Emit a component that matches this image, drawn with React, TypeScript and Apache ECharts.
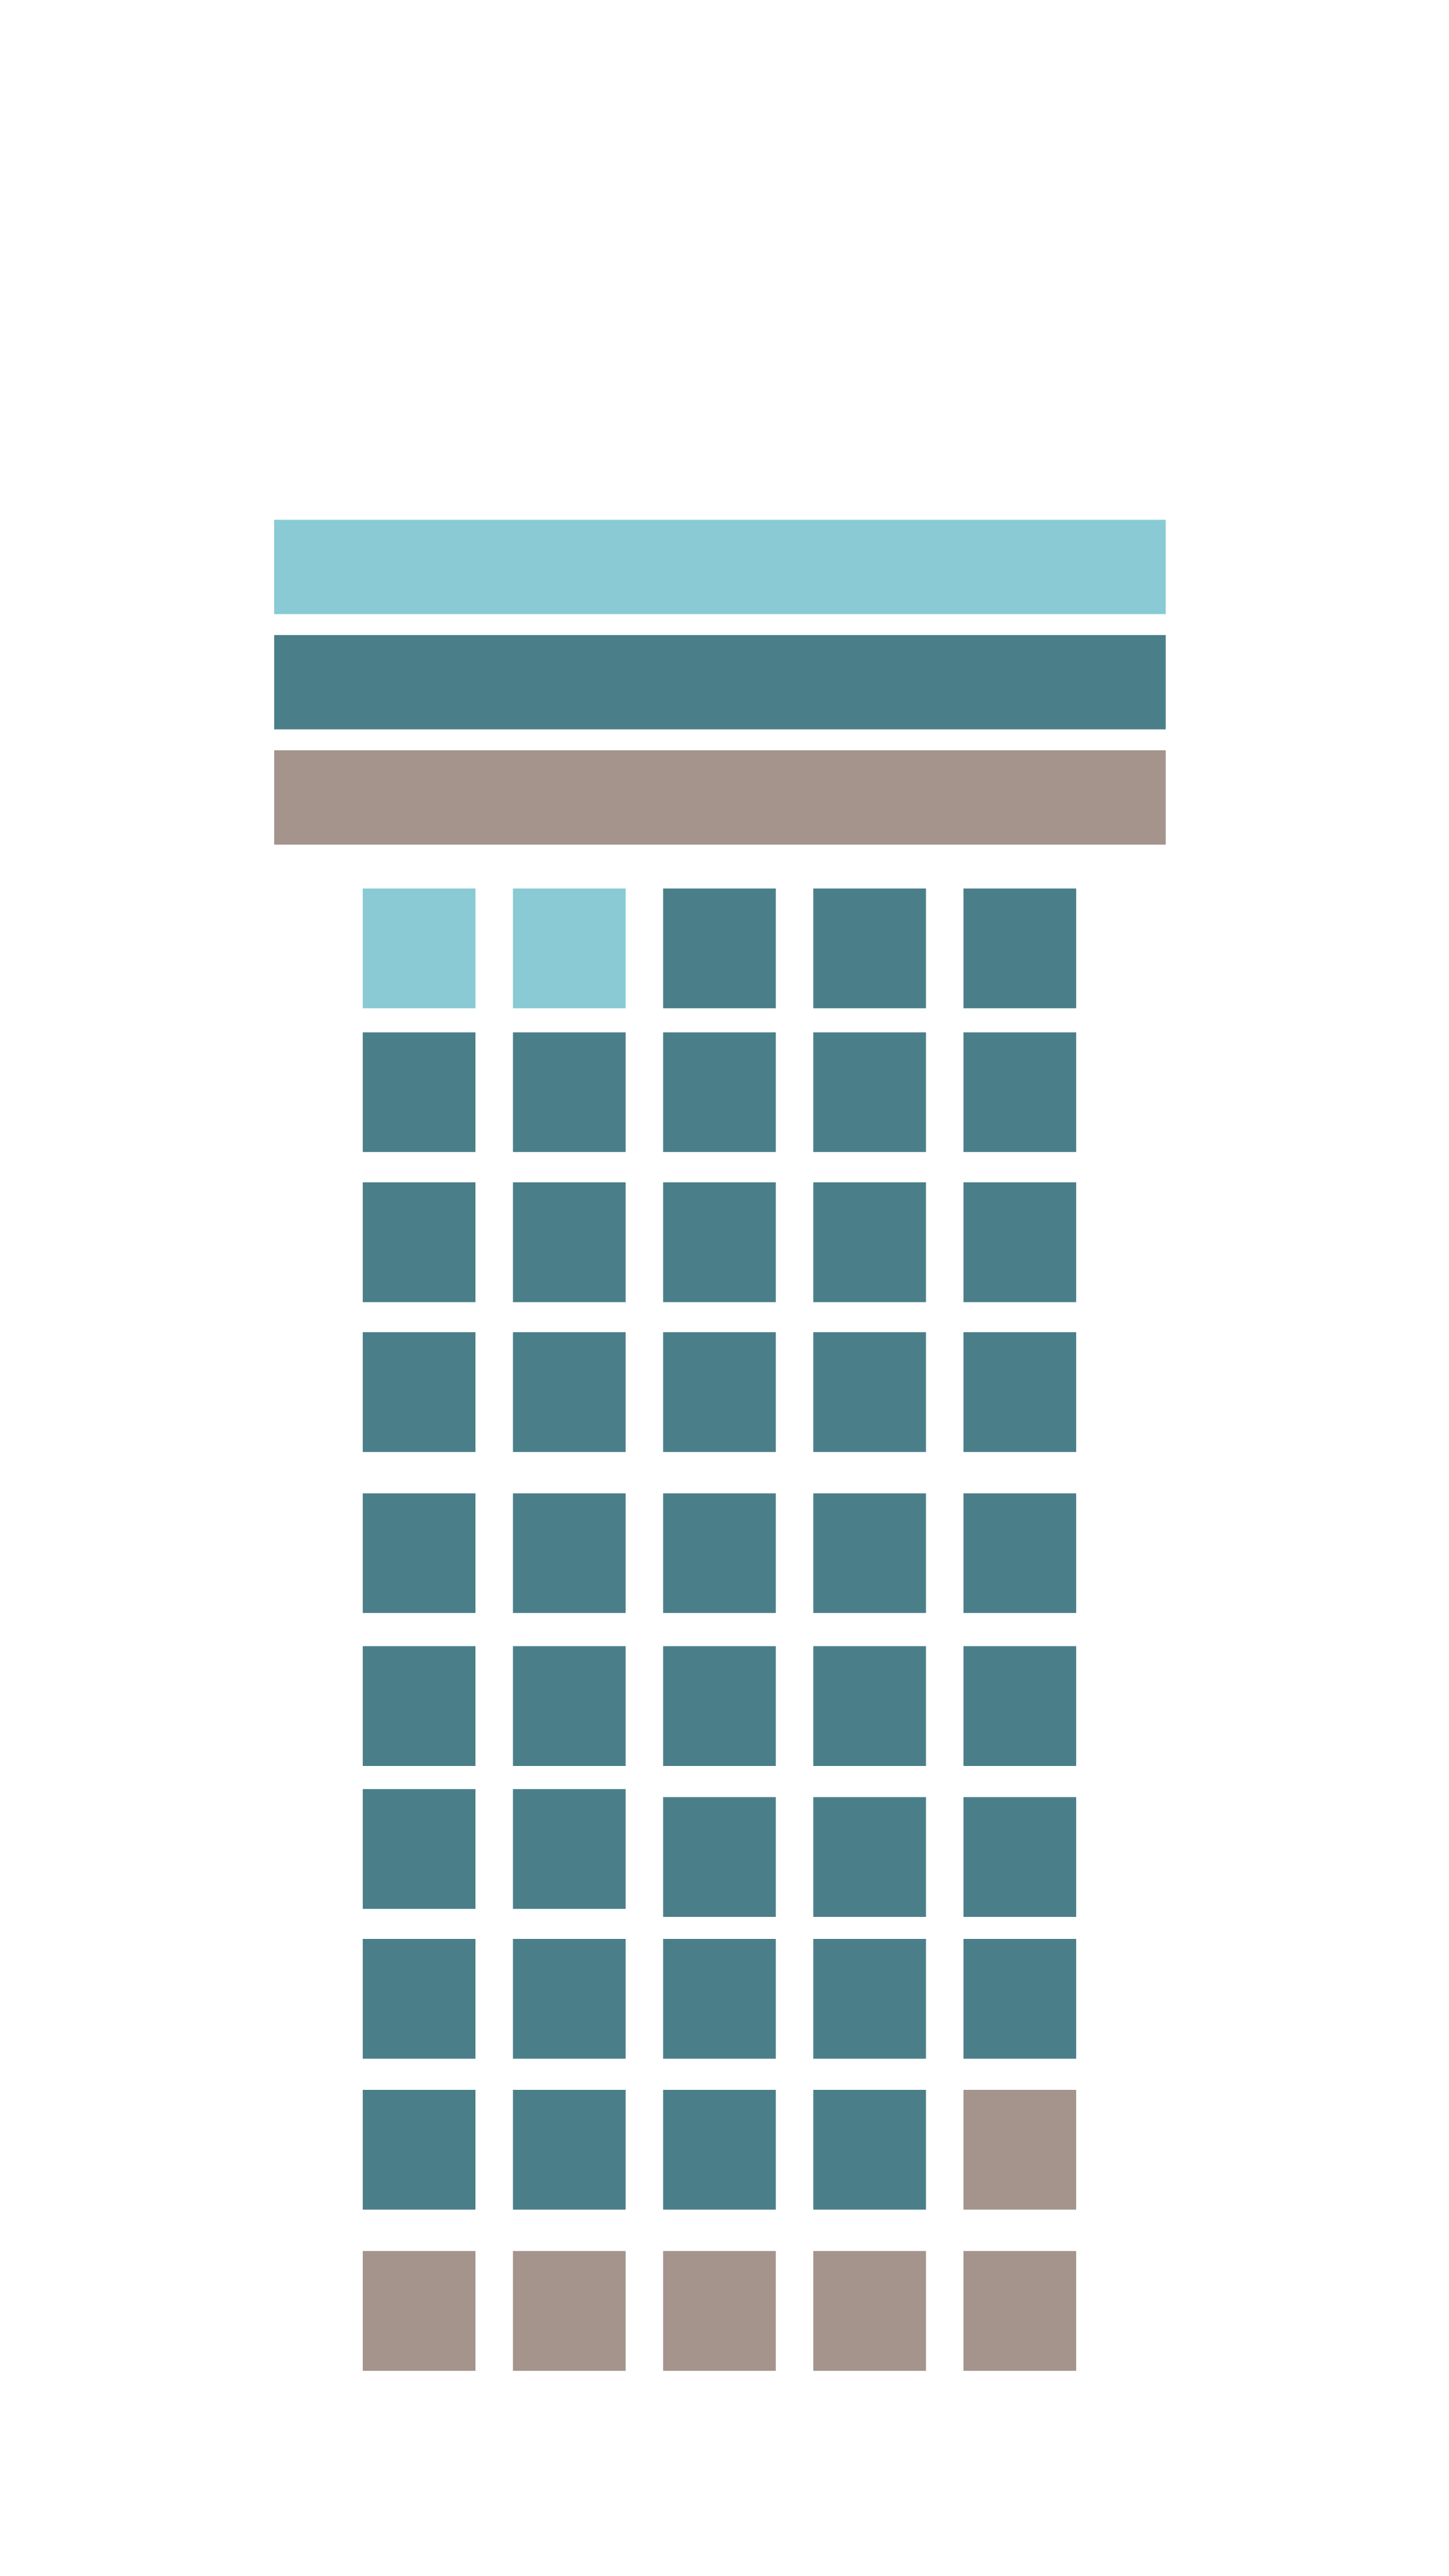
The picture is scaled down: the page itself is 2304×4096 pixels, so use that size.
import React, { useEffect, useRef } from "react";
import * as echarts from "echarts";

// Categories and their counts (waffle of 50 cells, 5 columns x 10 rows)
const categories = ["Group A", "Group B", "Group C"];
const counts = [2, 42, 6];
const colors = ["#89CAD4", "#4A7F89", "#A4948B"];

// Summary bars at the top (each spans the full share)
const summaryValues = [1, 1, 1];

// Row positions of each cell (row units, top = 0)
const cellRowPos = [
  [0, 0, 0, 0, 0],
  [0.95, 0.95, 0.95, 0.95, 0.95],
  [1.941, 1.941, 1.941, 1.941, 1.941],
  [2.931, 2.931, 2.931, 2.931, 2.931],
  [3.995, 3.995, 3.995, 3.995, 3.995],
  [5.005, 5.005, 5.005, 5.005, 5.005],
  [5.949, 5.949, 6.002, 6.002, 6.002],
  [6.939, 6.939, 6.939, 6.939, 6.939],
  [7.936, 7.936, 7.936, 7.936, 7.936],
  [9.0, 9.0, 9.0, 9.0, 9.0],
];
const nCols = 5;

export default function App() {
  const ref = useRef<HTMLDivElement>(null);
  useEffect(() => {
    if (!ref.current) return;
    const chart = echarts.init(ref.current, undefined, { renderer: "svg" });

    // assign cells row-major by category counts
    const cellSeriesData: number[][][] = categories.map(() => []);
    let idx = 0;
    categories.forEach((_, ci) => {
      for (let k = 0; k < counts[ci]; k++) {
        const r = Math.floor(idx / nCols);
        const c = idx % nCols;
        cellSeriesData[ci].push([c, cellRowPos[r][c]]);
        idx++;
      }
    });

    const option: any = {
      animation: false,
      backgroundColor: "#ffffff",
      grid: [
        { left: 436, top: 810, width: 1417.6, height: 549.6, containLabel: false },
        { left: 547, top: 1387.6, width: 1194, height: 2407.2, containLabel: false },
      ],
      xAxis: [
        { type: "value", gridIndex: 0, min: 0, max: 1, show: false },
        { type: "value", gridIndex: 1, min: -0.5, max: 4.5, show: false },
      ],
      yAxis: [
        { type: "category", gridIndex: 0, data: categories, inverse: true, show: false },
        { type: "value", gridIndex: 1, min: -0.5, max: 9.5, inverse: true, show: false },
      ],
      series: [
        {
          type: "bar",
          xAxisIndex: 0,
          yAxisIndex: 0,
          barWidth: 150,
          data: summaryValues.map((v, i) => ({ value: v, itemStyle: { color: colors[i] } })),
          silent: true,
        },
        ...categories.map((name, ci) => ({
          type: "scatter",
          name,
          xAxisIndex: 1,
          yAxisIndex: 1,
          symbol: "rect",
          symbolSize: [179.2, 190.4],
          itemStyle: { color: colors[ci], opacity: 1 },
          data: cellSeriesData[ci],
          silent: true,
        })),
      ],
    };
    chart.setOption(option);
    return () => chart.dispose();
  }, []);
  return (
    <div
      ref={ref}
      style={{ position: "absolute", left: 0, top: 0, width: 2304, height: 4096, background: "#fff" }}
    />
  );
}
